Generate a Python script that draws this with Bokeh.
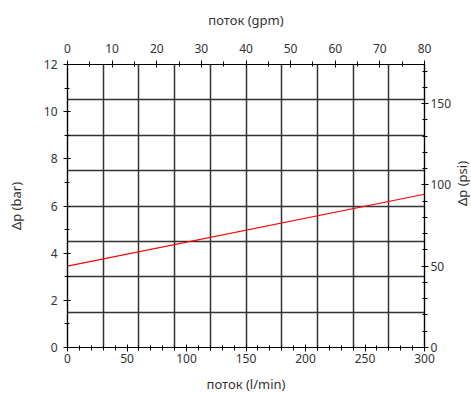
import math
from bokeh.plotting import figure
from bokeh.models import LinearAxis, Range1d, SingleIntervalTicker, FixedTicker
from bokeh.embed import file_html
from bokeh.resources import INLINE

# data
flow_lpm = [0, 300]
dp_bar = [3.45, 6.5]

x_ticks_major = 50
y_ticks_major = 2
gpm_ticks_major = 10
psi_ticks_major = 50

FONT = "Noto Sans"
TXT = "#333333"

p = figure(frame_width=357, frame_height=283, output_backend="svg", toolbar_location=None,
           x_range=Range1d(0, 300), y_range=Range1d(0, 12),
           min_border_left=67, min_border_right=47, min_border_top=64, min_border_bottom=46)
p.extra_x_ranges = {"gpm": Range1d(0, 80)}
p.extra_y_ranges = {"psi": Range1d(0, 12 * 14.5038)}

p.outline_line_color = "black"
p.outline_line_width = 1.2

p.line(flow_lpm, dp_bar, color="red", line_width=1.1)

# grid
p.xgrid.ticker = FixedTicker(ticks=[30 * i for i in range(1, 10)])
p.ygrid.ticker = FixedTicker(ticks=[1.5 * i for i in range(1, 8)])
for g in (p.xgrid, p.ygrid):
    g.grid_line_color = "#333333"
    g.grid_line_width = 1.5
    g.grid_line_alpha = 1.0


def style(ax, label, standoff, label_standoff):
    ax.axis_label = label
    ax.axis_label_text_font = FONT
    ax.axis_label_text_font_size = "13px"
    ax.axis_label_text_font_style = "normal"
    ax.axis_label_text_color = TXT
    ax.major_label_text_font = FONT
    ax.major_label_text_font_size = "12px"
    ax.major_label_text_color = TXT
    ax.axis_line_color = "black"
    ax.axis_line_width = 1.2
    ax.major_tick_line_color = "black"
    ax.minor_tick_line_color = "black"
    ax.major_tick_in = 3
    ax.major_tick_out = 4
    ax.minor_tick_in = 2
    ax.minor_tick_out = 3
    ax.major_label_standoff = standoff
    ax.axis_label_standoff = label_standoff


xa = p.xaxis[0]
xa.ticker = SingleIntervalTicker(interval=x_ticks_major, num_minor_ticks=5)
style(xa, "поток (l/min)", 2, 9)

ya = p.yaxis[0]
ya.ticker = SingleIntervalTicker(interval=y_ticks_major, num_minor_ticks=2)
style(ya, "Δp (bar)", 6, 16)

top = LinearAxis(x_range_name="gpm",
                 ticker=SingleIntervalTicker(interval=gpm_ticks_major, num_minor_ticks=2))
style(top, "поток (gpm)", 8, 12)
p.add_layout(top, "above")

right = LinearAxis(y_range_name="psi",
                   ticker=SingleIntervalTicker(interval=psi_ticks_major, num_minor_ticks=5))
style(right, "Δp (psi)", 2, 8)
if "axis_label_orientation" in right.properties():
    right.axis_label_orientation = math.pi / 2
p.add_layout(right, "right")

open("out.html", "w").write(file_html(p, INLINE))
